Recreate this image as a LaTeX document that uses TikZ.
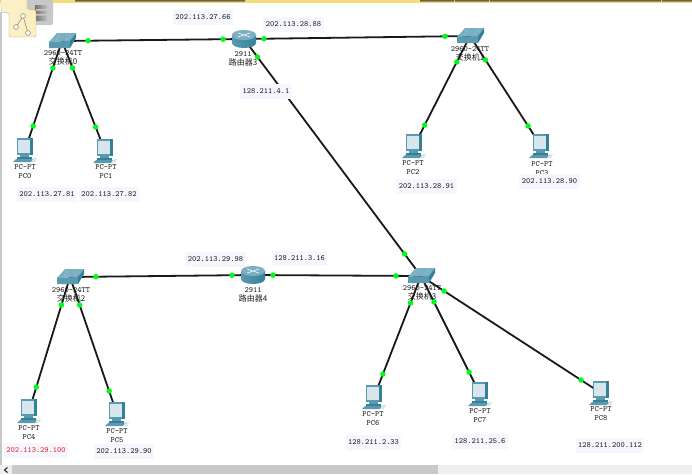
\documentclass[tikz,border=0pt]{standalone}
\usepackage{fontspec}
\newfontfamily\cjkfont{Noto Sans CJK SC}
\definecolor{linkgreen}{RGB}{0, 250, 30}
\definecolor{swtop}{RGB}{122, 176, 194}
\definecolor{swfront}{RGB}{90, 154, 176}
\definecolor{swside}{RGB}{52, 130, 152}
\definecolor{pcscreen}{RGB}{214, 230, 236}
\definecolor{labelbg}{RGB}{246, 246, 255}
\definecolor{ipred}{RGB}{240, 30, 40}
\definecolor{textgray}{RGB}{30, 30, 30}
\definecolor{barlight}{RGB}{238, 238, 238}
\definecolor{bargray}{RGB}{200, 200, 200}
\definecolor{topdark}{RGB}{105, 100, 65}
\definecolor{topyellow}{RGB}{246, 220, 125}
\definecolor{tagedge}{RGB}{190, 175, 130}
\tikzset{
  lamp/.style={circle, fill=linkgreen, inner sep=0pt, minimum size=5.5pt},
  link/.style={draw=black!90, line width=1.8pt},
  ipbox/.style={fill=labelbg, inner xsep=2.5pt, inner ysep=0pt, minimum height=15pt, text=textgray, font=\ttfamily\fontsize{8}{9}\selectfont},
  devtext/.style={inner sep=0pt, align=center, text=textgray, font=\ttfamily\fontsize{8}{9}\selectfont},
  switchicon/.pic={
    \fill[swtop] (-5,-8) -- (14,-8) -- (8,0) -- (-13,1) -- cycle;
    \fill[swfront] (-13,1) -- (8,0) -- (8,7) -- (-13,7) -- cycle;
    \fill[swside] (14,-8) -- (14,-3) -- (8,7) -- (8,0) -- cycle;
    \fill[white, opacity=.5] (-3,-5) circle (.7pt) (8,-5) circle (.7pt) (-5,-2) circle (.7pt) (5,-2) circle (.7pt);
  },
  routericon/.pic={
    \shade[left color=swfront, middle color=pcscreen, right color=swside] (-12,-4) -- (-12,4) arc[start angle=180, end angle=360, x radius=12pt, y radius=5pt] -- (12,-4) -- cycle;
    \fill[swtop] (0,-4) ellipse [x radius=12pt, y radius=5pt];
    \draw[white, line width=.6pt] (-6,-6) -- (6,-2) (6,-6) -- (-6,-2);
  },
  pcicon/.pic={
    \fill[swfront] (-8,-12) -- (8,-12) -- (8,5) -- (-8,5) -- cycle;
    \fill[swside] (5,-12) rectangle (8,5);
    \fill[pcscreen] (-7,-10) rectangle (5,3);
    \fill[swfront] (-5,5) rectangle (4,7);
    \fill[swside] (-8,7) rectangle (7,9);
    \fill[swfront] (-9,9) -- (8,9) -- (6,12) -- (-12,12) -- cycle;
    \fill[pcscreen] (8,8) -- (12,8) -- (10,12) -- (7,12) -- cycle;
  }
}
\begin{document}
\begin{tikzpicture}[x=1pt, y=-1pt]
  \useasboundingbox (0,0) rectangle (692,474);
  % window edges
  \fill[white] (0,0) rectangle (692,474);
  \fill[topyellow] (0,0) rectangle (692,3);
  \fill[topdark] (75,0) rectangle (245,1.5) (420,0) rectangle (454,1.5) (455,0) rectangle (489,1.5) (490,0) rectangle (661,1.5) (662,0) rectangle (692,1.5);
  \fill[bargray] (0,12) rectangle (1.5,465);
  \fill[barlight] (0,465) rectangle (692,474);
  \fill[bargray] (12,465) rectangle (438,474);
  \draw[textgray, line width=1pt] (7.5,467.5) -- (4.5,470) -- (7.5,472.5);
  % tab at top left
  \fill[bargray, rounded corners=2pt] (27,-2) rectangle (53,25);
  \shade[left color=black!55, right color=black!25] (35,5) rectangle (47,20);
  \fill[bargray] (36,9) rectangle (47,10.5) (36,14) rectangle (47,15.5);
  \shade[left color=white!60!topyellow, right color=topyellow!50!white, draw=tagedge, rounded corners=1.5pt] (1,-2) -- (1,12) -- (9,13) -- (9,37) -- (36,37) -- (36,10) -- (27,9) -- (27,-2) -- cycle;
  \draw[black!45, line width=.6pt] (23,16) -- (16,27) (23,16) -- (28,33);
  \filldraw[fill=white, draw=black!45, line width=.6pt] (23,16) circle (2.4pt) (16,27) circle (2.4pt) (28,33) circle (2.4pt);

  \coordinate (sw0) at (62,41);
  \coordinate (sw1) at (470,36);
  \coordinate (sw2) at (70,277);
  \coordinate (sw3) at (421,276);
  \coordinate (r3) at (244,39);
  \coordinate (r4) at (253,275);
  \coordinate (pc0) at (25,150);
  \coordinate (pc1) at (105,151);
  \coordinate (pc2) at (414,146);
  \coordinate (pc3) at (541,146);
  \coordinate (pc4) at (29,411);
  \coordinate (pc5) at (117,414);
  \coordinate (pc6) at (374,397);
  \coordinate (pc7) at (480,394);
  \coordinate (pc8) at (601,393);

  % names sit under the links
  \node[devtext] (sw0txt) at (63,58) {2960-24TT\\{\cjkfont 交换机0}};
  \node[devtext] (sw1txt) at (470,53.5) {2960-24TT\\{\cjkfont 交换机1}};
  \node[devtext] (sw2txt) at (71,294.5) {2960-24TT\\{\cjkfont 交换机2}};
  \node[devtext] (sw3txt) at (422,293) {2960-24TT\\{\cjkfont 交换机3}};
  \node[devtext] (r3txt) at (243,58.5) {2911\\{\cjkfont 路由器3}};
  \node[devtext] (r4txt) at (253,295) {2911\\{\cjkfont 路由器4}};
  \node[devtext] (pc0txt) at (25,171.5) {PC-PT\\PC0};
  \node[devtext] (pc1txt) at (106,172) {PC-PT\\PC1};
  \node[devtext] (pc2txt) at (413,167.5) {PC-PT\\PC2};
  \node[devtext] (pc3txt) at (542,169) {PC-PT\\PC3};
  \node[devtext] (pc4txt) at (29,432.5) {PC-PT\\PC4};
  \node[devtext] (pc5txt) at (117,435.5) {PC-PT\\PC5};
  \node[devtext] (pc6txt) at (373,418.5) {PC-PT\\PC6};
  \node[devtext] (pc7txt) at (480,415.5) {PC-PT\\PC7};
  \node[devtext] (pc8txt) at (601,413.5) {PC-PT\\PC8};

  \draw[link] (sw0) -- node[lamp, pos=.143] (d1a) {} node[lamp, pos=.885] (d1b) {} (r3);
  \draw[link] (r3) -- node[lamp, pos=.088] (d2a) {} node[lamp, pos=.889] (d2b) {} (sw1);
  \draw[link] (r3) -- node[lamp, pos=.076] (d3a) {} node[lamp, pos=.907] (d3b) {} (sw3);
  \draw[link] (sw0) -- node[lamp, pos=.248] (d4a) {} node[lamp, pos=.78] (d4b) {} (pc0);
  \draw[link] (sw0) -- node[lamp, pos=.245] (d5a) {} node[lamp, pos=.782] (d5b) {} (pc1);
  \draw[link] (sw1) -- node[lamp, pos=.236] (d6a) {} node[lamp, pos=.809] (d6b) {} (pc2);
  \draw[link] (sw1) -- node[lamp, pos=.218] (d7a) {} node[lamp, pos=.818] (d7b) {} (pc3);
  \draw[link] (sw2) -- node[lamp, pos=.142] (d8a) {} node[lamp, pos=.885] (d8b) {} (r4);
  \draw[link] (r4) -- node[lamp, pos=.119] (d9a) {} node[lamp, pos=.851] (d9b) {} (sw3);
  \draw[link] (sw2) -- node[lamp, pos=.209] (d10a) {} node[lamp, pos=.821] (d10b) {} (pc4);
  \draw[link] (sw2) -- node[lamp, pos=.204] (d11a) {} node[lamp, pos=.832] (d11b) {} (pc5);
  \draw[link] (sw3) -- node[lamp, pos=.223] (d12a) {} node[lamp, pos=.81] (d12b) {} (pc6);
  \draw[link] (sw3) -- node[lamp, pos=.22] (d13a) {} node[lamp, pos=.814] (d13b) {} (pc7);
  \draw[link] (sw3) -- node[lamp, pos=.128] (d14a) {} node[lamp, pos=.889] (d14b) {} (pc8);

  \pic at (sw0) {switchicon};
  \pic at (sw1) {switchicon};
  \pic at (sw2) {switchicon};
  \pic at (sw3) {switchicon};
  \pic at (r3) {routericon};
  \pic at (r4) {routericon};
  \pic at (pc0) {pcicon};
  \pic at (pc1) {pcicon};
  \pic at (pc2) {pcicon};
  \pic at (pc3) {pcicon};
  \pic at (pc4) {pcicon};
  \pic at (pc5) {pcicon};
  \pic at (pc6) {pcicon};
  \pic at (pc7) {pcicon};
  \pic at (pc8) {pcicon};

  % address notes
  \node[ipbox] (ip1) at (203,17) {202.113.27.66};
  \node[ipbox] (ip2) at (293.5,24) {202.113.28.88};
  \node[ipbox] (ip3) at (266,91) {128.211.4.1};
  \node[ipbox] (ip4) at (47,194) {202.113.27.81};
  \node[ipbox] (ip5) at (109,194) {202.113.27.82};
  \node[ipbox] (ip6) at (426.5,186) {202.113.28.91};
  \node[ipbox] (ip7) at (549.5,181) {202.113.28.90};
  \node[ipbox] (ip8) at (215.5,259) {202.113.29.98};
  \node[ipbox] (ip9) at (299.5,258) {128.211.3.16};
  \node[ipbox, text=ipred] (ip10) at (36,450) {202.113.29.100};
  \node[ipbox] (ip11) at (124,451) {202.113.29.90};
  \node[ipbox] (ip12) at (373.5,442) {128.211.2.33};
  \node[ipbox] (ip13) at (480,441) {128.211.25.6};
  \node[ipbox] (ip14) at (610,445) {128.211.200.112};
\end{tikzpicture}
\end{document}
